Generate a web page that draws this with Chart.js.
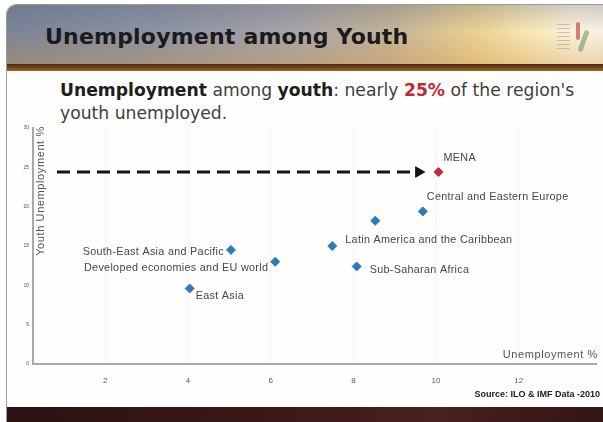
<!DOCTYPE html>
<html>
<head>
<meta charset="utf-8">
<script src="https://cdn.jsdelivr.net/npm/chart.js@4/dist/chart.umd.min.js"></script>
<style>
  html, body { margin:0; padding:0; background:#ffffff; }
  body { width:603px; height:422px; position:relative; overflow:hidden; font-family:"Liberation Sans", Arial, sans-serif; }
  #frame { position:absolute; left:6px; top:4px; width:620px; height:430px; border:1px solid #9a9a9a; border-radius:10px 0 0 0; overflow:hidden; background:#fffefc; }
  #header { position:absolute; left:0; top:0; width:100%; height:59px;
    background: linear-gradient(90deg, #7b8497 0%, #8d93a3 25%, #a5a3a8 45%, #c4b397 62%, #e8cf92 75%, #f7e6b4 84%, #fbf4e0 92%, #f4efe6 100%); }
  #glow { position:absolute; left:0; top:0; width:100%; height:59px;
    background: linear-gradient(180deg, rgba(80,90,120,0.25) 0%, rgba(0,0,0,0) 45%, rgba(210,150,70,0.35) 100%); }
  #band { position:absolute; left:0; top:59px; width:100%; height:7px; background: linear-gradient(180deg, #4a2a10 0%, #7a4a1c 60%, #a0682c 100%); }
  #title { position:absolute; left:45px; top:24px; font-family:"DejaVu Sans", sans-serif; font-weight:bold; font-size:22px; color:#1b1b1b; letter-spacing:0.2px; white-space:nowrap; }
  #subtitle { position:absolute; left:60px; top:79px; font-family:"DejaVu Sans", sans-serif; font-size:17.2px; line-height:23px; color:#3e3e3e; white-space:nowrap; }
  #subtitle b { color:#1e1e1e; }
  #subtitle .red { color:#c3283a; font-weight:bold; }
  #footer { position:absolute; left:0; top:402px; width:100%; height:30px; background: linear-gradient(90deg, #2a1212 0%, #3a1818 40%, #4a2020 70%, #2e1414 100%); }
  #source { position:absolute; right:3px; top:389px; font-family:"Liberation Sans", Arial, sans-serif; font-weight:bold; font-size:9px; color:#222; white-space:nowrap; }
  #wrap { position:absolute; left:0; top:110px; width:603px; height:290px; }
  #logo1 { position:absolute; left:557px; top:24px; width:13px; height:28px; background:repeating-linear-gradient(180deg, #9a9a8a 0 1px, transparent 1px 4px); opacity:0.5; }
  #logo2 { position:absolute; left:576px; top:22px; width:4px; height:18px; background:#c94a4a; border-radius:2px; opacity:0.7; }
  #logo3 { position:absolute; left:581px; top:30px; width:5px; height:22px; background:#5a8a5a; border-radius:2px; transform:rotate(20deg); opacity:0.5; }
</style>
</head>
<body>
<div id="frame">
  <div id="header"></div>
  <div id="glow"></div>
  <div id="band"></div>
  <div id="footer"></div>
</div>
<div id="logo1"></div><div id="logo2"></div><div id="logo3"></div>
<div id="title">Unemployment among Youth</div>
<div id="subtitle"><b>Unemployment</b> among <b>youth</b>: nearly <span class="red">25%</span> of the region's<br>youth unemployed.</div>
<div id="wrap"><canvas id="c" width="603" height="290"></canvas></div>
<div id="source">Source: ILO &amp; IMF Data -2010</div>
<script>
// ---- data ----
const regionNames = ['Central and Eastern Europe', '', 'Latin America and the Caribbean', 'Sub-Saharan Africa', 'South-East Asia and Pacific', 'Developed economies and EU world', 'East Asia'];
const regionUnemployment = [9.68, 8.53, 7.49, 8.08, 5.04, 6.11, 4.04];
const regionYouthUnemployment = [19.4, 18.2, 15.0, 12.4, 14.5, 13.0, 9.6];
const menaName = ['MENA'];
const menaUnemployment = [10.06];
const menaYouthUnemployment = [24.4];
const arrowX = [0.83, 9.58];
const arrowY = [24.4, 24.4];
const xTickValues = [2, 4, 6, 8, 10, 12];
const yTickValues = [0, 5, 10, 15, 20, 25, 30];
const xAxisTitle = 'Unemployment %';
const yAxisTitle = 'Youth Unemployment %';

// ---- label placement (style, not data) ----
const regionLabelPlacement = [
  {dx: 4, dy: -14, align: 'left'},
  {dx: 0, dy: 0, align: 'left'},
  {dx: 13, dy: -6, align: 'left'},
  {dx: 13, dy: 4, align: 'left'},
  {dx: -7, dy: 2, align: 'right'},
  {dx: -7, dy: 6, align: 'right'},
  {dx: 6, dy: 8, align: 'left'}
];
const menaLabelPlacement = [{dx: 5, dy: -14, align: 'left'}];

const toPts = (xs, ys) => xs.map((x, i) => ({x: x, y: ys[i]}));

const labelPlugin = {
  id: 'pointLabels',
  afterDatasetsDraw(chart) {
    const ctx = chart.ctx;
    ctx.save();
    ctx.font = '10.8px "Liberation Sans", Arial, sans-serif';
    if ('letterSpacing' in ctx) ctx.letterSpacing = '0.3px';
    ctx.fillStyle = '#474747';
    ctx.textBaseline = 'middle';
    const draw = (dsIndex, names, placement) => {
      const meta = chart.getDatasetMeta(dsIndex);
      meta.data.forEach((el, i) => {
        if (!names[i]) return;
        const p = placement[i];
        ctx.textAlign = p.align;
        ctx.fillText(names[i], el.x + p.dx, el.y + p.dy);
      });
    };
    draw(1, regionNames, regionLabelPlacement);
    draw(2, menaName, menaLabelPlacement);
    // axis titles inside plot area
    const a = chart.chartArea;
    ctx.font = '11px "Liberation Sans", Arial, sans-serif';
    if ('letterSpacing' in ctx) ctx.letterSpacing = '0.6px';
    ctx.fillStyle = '#555';
    ctx.textAlign = 'right';
    ctx.textBaseline = 'alphabetic';
    ctx.fillText(xAxisTitle, a.right + 2, a.bottom - 6);
    ctx.save();
    ctx.translate(a.left + 8, a.top + 63);
    ctx.rotate(-Math.PI / 2);
    ctx.textAlign = 'center';
    ctx.textBaseline = 'middle';
    ctx.fillText(yAxisTitle, 0, 0);
    ctx.restore();
    ctx.restore();
  }
};

new Chart(document.getElementById('c'), {
  type: 'scatter',
  data: {
    datasets: [
      {
        type: 'line',
        data: toPts(arrowX, arrowY),
        showLine: true,
        borderColor: '#141414',
        borderWidth: 3,
        borderDash: [13, 7],
        pointStyle: 'triangle',
        rotation: 90,
        pointRadius: [0, 6],
        pointBackgroundColor: '#141414',
        pointBorderColor: '#141414',
        pointBorderWidth: 1,
        fill: false,
        order: 3
      },
      {
        data: toPts(regionUnemployment, regionYouthUnemployment),
        pointStyle: 'rectRot',
        pointRadius: 4.5,
        backgroundColor: '#2a7cbf',
        borderColor: '#2a7cbf',
        order: 2
      },
      {
        data: toPts(menaUnemployment, menaYouthUnemployment),
        pointStyle: 'rectRot',
        pointRadius: 4.5,
        backgroundColor: '#c62a3c',
        borderColor: '#c62a3c',
        order: 1
      }
    ]
  },
  options: {
    responsive: false,
    animation: false,
    events: [],
    layout: { padding: { top: 18, right: 5, left: 0, bottom: 0 } },
    plugins: { legend: { display: false }, tooltip: { enabled: false } },
    scales: {
      x: {
        type: 'linear',
        min: 0.25,
        max: 13.87,
        afterFit(s) { s.height = 36; },
        afterBuildTicks(s) { s.ticks = xTickValues.map(v => ({value: v})); },
        ticks: { font: { size: 8, family: '"Liberation Sans", Arial, sans-serif' }, color: '#5a5a5a', padding: 12 },
        grid: { color: 'rgba(0,0,0,0.045)', drawTicks: false },
        border: { color: '#a8a8a8', width: 2 }
      },
      y: {
        type: 'linear',
        min: 0,
        max: 30,
        afterFit(s) { s.width = 33; },
        afterBuildTicks(s) { s.ticks = yTickValues.map(v => ({value: v})); },
        ticks: { font: { size: 5, family: '"Liberation Sans", Arial, sans-serif' }, color: '#555', padding: 4 },
        grid: { display: true, drawOnChartArea: false, drawTicks: false },
        border: { color: '#a8a8a8', width: 2 }
      }
    }
  },
  plugins: [labelPlugin]
});
</script>
</body>
</html>
